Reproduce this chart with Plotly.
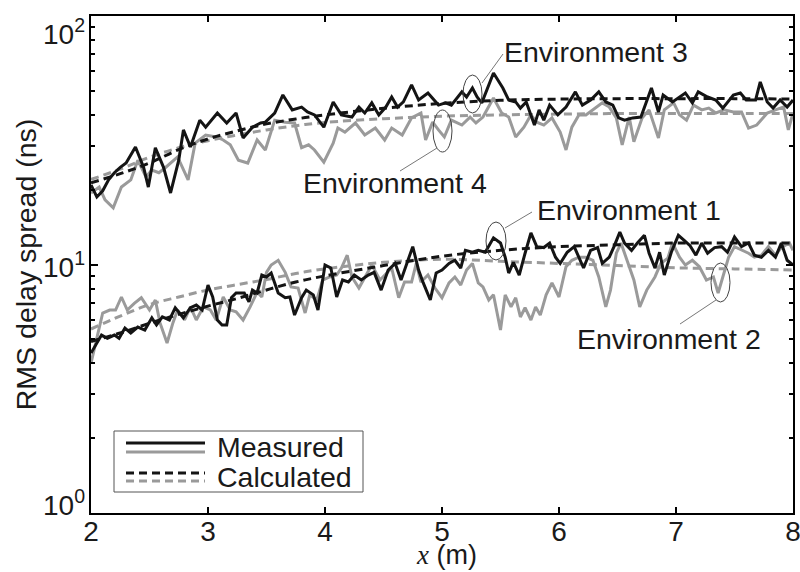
import math
import plotly.graph_objects as go

# ---------------- data ----------------
env3_meas_x = [2.00,2.05,2.10,2.15,2.20,2.25,2.30,2.38,2.45,2.49,2.55,2.62,2.68,2.75,2.79,2.85,2.93,2.98,
               3.08,3.16,3.24,3.30,3.38,3.45,3.49,3.57,3.64,3.72,3.80,3.85,3.91,3.99,
               4.07,4.14,4.23,4.29,4.34,4.40,4.46,4.52,4.57,4.62,4.67,4.74,4.80,4.88,4.97,
               5.03,5.08,5.17,5.21,5.26,5.30,5.34,5.44,5.52,5.57,5.63,5.67,5.72,5.79,5.83,5.87,5.92,5.99,
               6.06,6.14,6.20,6.27,6.34,6.40,6.46,6.51,6.56,6.63,6.70,6.79,6.85,6.89,6.97,
               7.08,7.14,7.19,7.27,7.34,7.40,7.49,7.55,7.60,7.68,7.72,7.78,7.83,7.89,7.95,8.00]
env3_meas_y = [20.9,18.7,19.8,21.9,23.4,24.6,25.6,29.7,24.6,20.5,29.5,24.6,19.4,26.3,34.8,29.7,38.1,35.7,
               40.7,37.1,40.7,32.3,35.7,37.1,37.4,40.7,48.1,41.9,43.0,41.1,40.0,35.7,
               45.1,40.0,39.2,43.0,40.7,44.7,40.0,43.0,47.2,43.0,45.1,52.8,45.9,49.0,43.8,
               44.7,43.8,49.5,47.2,51.3,47.2,44.7,59.0,51.3,45.9,45.1,42.6,45.1,36.4,41.9,38.1,43.8,40.0,
               43.0,49.5,43.8,45.9,49.5,45.1,43.8,38.9,38.1,38.9,39.2,51.3,41.1,48.1,45.1,
               49.0,44.7,49.5,47.2,45.9,42.6,48.1,49.0,45.9,45.9,54.3,45.1,42.6,45.9,43.0,45.9]

env4_meas_x = [2.00,2.07,2.12,2.19,2.26,2.34,2.40,2.47,2.52,2.58,2.63,2.68,2.74,2.83,2.89,2.98,
               3.07,3.13,3.19,3.26,3.34,3.42,3.49,3.57,3.66,3.74,3.80,3.86,3.91,3.99,
               4.07,4.11,4.17,4.26,4.34,4.43,4.51,4.57,4.66,4.74,4.82,4.86,4.92,4.97,
               5.02,5.08,5.17,5.24,5.29,5.35,5.44,5.51,5.57,5.63,5.70,5.76,5.81,5.87,5.94,
               6.01,6.06,6.11,6.17,6.23,6.29,6.37,6.43,6.49,6.54,6.60,6.64,6.71,6.77,6.85,6.90,6.98,
               7.03,7.09,7.15,7.22,7.28,7.34,7.41,7.49,7.56,7.62,7.69,7.78,7.85,7.92,7.96,8.00]
env4_meas_y = [19.4,20.5,18.2,16.9,20.5,21.9,26.3,22.5,24.0,23.4,24.4,25.6,27.1,21.9,30.8,33.2,
               32.6,31.7,30.3,26.3,25.6,31.7,28.9,38.1,37.4,37.1,29.5,30.3,28.9,25.8,
               30.8,35.4,34.1,37.1,33.2,35.4,31.7,35.4,33.2,38.9,40.7,31.7,37.4,34.8,
               32.6,38.1,36.4,39.2,37.1,39.2,46.8,40.7,39.2,32.6,35.7,40.0,37.4,36.4,38.9,
               34.1,28.9,35.7,40.0,40.0,41.9,44.7,43.0,38.9,30.3,39.2,31.2,38.9,41.9,32.3,41.9,44.7,
               40.0,38.1,43.8,41.9,42.6,40.7,41.9,41.1,41.1,35.4,36.4,40.7,41.9,43.0,34.8,40.7]

env1_meas_x = [2.00,2.03,2.09,2.14,2.20,2.24,2.29,2.34,2.40,2.46,2.52,2.56,2.61,2.67,2.72,2.79,2.85,2.90,2.95,
               3.00,3.04,3.08,3.12,3.16,3.20,3.24,3.31,3.35,3.38,3.42,3.46,
               3.50,3.54,3.60,3.66,3.70,3.74,3.80,3.84,3.90,3.94,
               4.00,4.05,4.10,4.15,4.20,4.25,4.31,4.37,4.42,4.48,
               4.54,4.60,4.65,4.70,4.75,4.80,4.84,4.90,4.95,
               5.00,5.06,5.11,5.16,5.20,5.26,5.31,5.37,5.44,5.50,
               5.54,5.57,5.61,5.66,5.71,5.76,5.81,5.87,5.92,5.97,
               6.01,6.07,6.13,6.17,6.21,6.27,6.33,6.37,6.43,6.47,
               6.52,6.56,6.62,6.67,6.73,6.77,6.82,6.86,6.90,6.96,
               7.02,7.07,7.12,7.17,7.22,7.27,7.33,7.39,7.44,7.50,
               7.56,7.62,7.67,7.73,7.79,7.85,7.90,7.95,8.00]
env1_meas_y = [4.40,4.66,5.20,5.05,5.20,5.05,5.55,5.30,5.60,5.45,6.10,5.71,6.15,5.98,6.70,6.10,6.70,6.87,6.56,
               8.27,7.40,5.98,5.71,5.71,7.35,7.68,7.68,7.07,7.89,7.68,9.07,
               8.91,9.24,7.68,7.35,7.40,6.26,7.35,7.89,7.55,6.56,
               9.95,9.68,7.40,8.66,8.50,9.07,8.66,9.07,9.30,7.89,
               9.50,10.1,8.66,10.1,11.8,9.50,8.43,7.20,9.24,
               9.50,10.1,10.4,9.68,11.4,11.2,11.4,11.2,12.8,12.2,
               10.7,9.24,10.2,9.07,11.1,13.4,11.8,11.7,12.2,10.7,
               10.1,11.2,11.8,10.6,9.68,11.4,11.7,10.1,10.7,11.8,
               13.5,12.2,11.4,12.2,13.1,11.1,9.68,11.2,9.07,11.2,
               13.1,12.5,11.9,10.9,12.2,11.1,11.7,11.8,11.2,12.9,
               11.8,12.2,10.9,10.7,11.4,10.7,12.2,10.4,9.95]

env2_meas_x = [2.00,2.04,2.10,2.16,2.21,2.26,2.31,2.37,2.43,2.50,2.55,2.59,2.65,2.70,2.74,2.80,2.85,2.90,2.96,
               3.02,3.07,3.13,3.19,3.24,3.30,3.36,3.42,3.46,
               3.50,3.54,3.60,3.66,3.71,3.77,3.83,3.87,3.93,3.98,
               4.04,4.10,4.14,4.19,4.23,4.29,4.34,4.40,4.47,4.53,
               4.57,4.63,4.68,4.74,4.78,4.82,4.88,4.94,
               5.00,5.06,5.11,5.16,5.21,5.26,5.31,5.35,5.40,5.44,
               5.50,5.54,5.59,5.63,5.67,5.71,5.76,5.80,5.84,5.89,5.94,
               6.00,6.06,6.11,6.17,6.23,6.29,6.34,6.40,6.44,6.49,
               6.53,6.58,6.64,6.69,6.75,6.82,6.87,6.93,6.97,
               7.03,7.08,7.14,7.20,7.26,7.32,7.36,7.40,7.45,7.50,
               7.56,7.62,7.67,7.73,7.79,7.85,7.90,7.97,8.00]
env2_meas_y = [4.01,4.83,6.38,6.56,6.56,7.40,6.56,6.98,7.35,6.56,7.20,5.82,4.83,5.82,6.56,5.98,6.75,5.98,6.75,
               6.56,5.98,7.40,6.56,6.45,5.98,6.75,7.75,7.40,
               9.30,9.95,10.4,9.30,8.12,8.04,6.38,7.55,7.20,8.66,
               8.91,9.07,9.68,10.9,8.91,8.04,8.91,9.95,8.66,9.30,
               9.68,7.35,8.50,8.50,10.1,8.50,9.07,8.04,
               7.35,8.43,8.91,8.27,9.50,10.1,8.43,8.12,7.20,7.55,
               5.45,7.55,6.75,7.35,6.15,6.70,5.98,6.75,6.26,7.55,8.43,
               7.40,9.80,10.4,10.7,10.7,10.4,8.91,6.75,7.89,11.1,
               12.2,10.4,8.66,6.75,7.89,8.91,10.1,10.6,12.2,
               10.7,9.95,10.4,9.80,8.66,8.91,7.68,8.91,10.7,11.8,
               11.4,11.1,10.7,10.9,11.8,10.9,11.7,12.2,11.4]

calc_x = [2.0, 2.25, 2.5, 2.75, 3.0, 3.25, 3.5, 3.75, 4.0, 4.5, 5.0, 5.5, 6.0, 6.5, 7.0, 7.5, 8.0]
env3_calc = [21.3, 23.2, 25.6, 29.0, 32.0, 34.5, 36.8, 38.5, 40.0, 42.5, 44.5, 45.8, 46.3, 46.5, 46.5, 46.5, 46.3]
env4_calc = [22.0, 24.2, 27.0, 29.5, 31.5, 33.2, 34.8, 36.2, 37.3, 38.6, 39.5, 40.0, 40.3, 40.5, 40.5, 40.5, 40.5]
env1_calc = [4.9, 5.3, 5.8, 6.3, 6.8, 7.3, 7.9, 8.5, 9.0, 9.9, 10.8, 11.4, 11.8, 12.0, 12.2, 12.2, 12.2]
env2_calc = [5.5, 6.2, 6.9, 7.4, 7.9, 8.3, 8.7, 9.2, 9.6, 10.2, 10.5, 10.3, 10.1, 9.9, 9.7, 9.6, 9.5]

x_ticks = [2, 3, 4, 5, 6, 7, 8]
y_ticks = [1, 10, 100]
y_ticktext = ["10<sup>0</sup>", "10<sup>1</sup>", "10<sup>2</sup>"]
y_minor = [2, 3, 4, 5, 6, 7, 8, 9, 20, 30, 40, 50, 60, 70, 80, 90]

BLACK = "#141414"
GRAY = "#9a9a9a"
TXT = "#1a1a1a"
FONT = "Liberation Sans, Arial, sans-serif"
DASH = "8px,5px"
LW = 3
FS = 28       # tick labels
FA = 28.5     # annotation texts

# ---------------- figure ----------------
fig = go.Figure()

def add(x, y, color, dash=None, spline=False):
    fig.add_trace(go.Scatter(
        x=x, y=y, mode="lines", showlegend=False, hoverinfo="skip",
        line=dict(color=color, width=LW, dash=dash or "solid",
                  shape="spline" if spline else "linear", smoothing=1.0)))

add(env4_meas_x, env4_meas_y, GRAY)
add(env2_meas_x, env2_meas_y, GRAY)
add(calc_x, env4_calc, GRAY, DASH, True)
add(calc_x, env2_calc, GRAY, DASH, True)
add(env3_meas_x, env3_meas_y, BLACK)
add(env1_meas_x, env1_meas_y, BLACK)
add(calc_x, env3_calc, BLACK, DASH, True)
add(calc_x, env1_calc, BLACK, DASH, True)

L, R, T, B = 91, 7, 16, 59
W, H = 800, 572
PW, PH = W - L - R, H - T - B

def px(xp):
    return (xp - L) / PW

def py(yp):
    return (H - B - yp) / PH

shapes = []
annos = []

# y tick labels (MATLAB style: end labels pulled inside the axis span)
for v, txt, shift in zip(y_ticks, y_ticktext, [10, 0, -16]):
    annos.append(dict(text=txt, xref="paper", yref="y", x=0, y=math.log10(v),
                      xanchor="right", yanchor="middle", xshift=-4, yshift=shift,
                      showarrow=False, font=dict(family=FONT, size=FS, color=TXT)))

# x axis title
annos.append(dict(text="<span style='font-family:Liberation Serif'><i>x</i></span> (m)",
                  xref="paper", yref="paper", x=px(446), y=py(555),
                  xanchor="center", yanchor="middle", showarrow=False,
                  font=dict(family=FONT, size=27, color=TXT)))

# legend box
shapes.append(dict(type="rect", xref="paper", yref="paper",
                   x0=px(114), x1=px(363), y0=py(492), y1=py(431),
                   line=dict(color="#555555", width=1), fillcolor="white", layer="above"))
for yy, col, dash in [(443, BLACK, "solid"), (452, GRAY, "solid"),
                      (473, BLACK, DASH), (481, GRAY, DASH)]:
    shapes.append(dict(type="line", xref="paper", yref="paper",
                       x0=px(126), x1=px(205), y0=py(yy), y1=py(yy),
                       line=dict(color=col, width=LW, dash=dash), layer="above"))
annos.append(dict(text="Measured", xref="paper", yref="paper", x=px(215), y=py(447),
                  xanchor="left", yanchor="middle", showarrow=False,
                  font=dict(family=FONT, size=FA, color=TXT)))
annos.append(dict(text="Calculated", xref="paper", yref="paper", x=px(215), y=py(477),
                  xanchor="left", yanchor="middle", showarrow=False,
                  font=dict(family=FONT, size=FA, color=TXT)))

# environment labels with ellipses and leader lines
envs = [
    ("Environment 3", (463, 482, 75, 113), (482, 83, 503, 54), (502, 52), "left"),
    ("Environment 4", (433, 452, 110, 152), (437, 148, 400, 171), (489, 183), "right"),
    ("Environment 1", (486, 506, 222, 260), (505, 228, 532, 212), (535, 210), "left"),
    ("Environment 2", (711, 730, 263, 302), (716, 300, 680, 324), (575, 339), "left"),
]
for text, ell, ln, pos, anch in envs:
    shapes.append(dict(type="circle", xref="paper", yref="paper",
                       x0=px(ell[0]), x1=px(ell[1]), y0=py(ell[3]), y1=py(ell[2]),
                       line=dict(color="#444444", width=1), layer="above"))
    shapes.append(dict(type="line", xref="paper", yref="paper",
                       x0=px(ln[0]), y0=py(ln[1]), x1=px(ln[2]), y1=py(ln[3]),
                       line=dict(color="#777777", width=1), layer="above"))
    annos.append(dict(text=text, xref="paper", yref="paper", x=px(pos[0]), y=py(pos[1]),
                      xanchor=anch, yanchor="middle", showarrow=False,
                      font=dict(family=FONT, size=FA, color=TXT)))

fig.update_layout(
    width=W, height=H,
    margin=dict(l=L, r=R, t=T, b=B, autoexpand=False),
    paper_bgcolor="white", plot_bgcolor="white",
    font=dict(family=FONT, size=FS, color=TXT),
    shapes=shapes, annotations=annos,
    showlegend=False,
)
fig.update_xaxes(
    range=[2, 8], tickvals=x_ticks, ticktext=[str(v) for v in x_ticks],
    showline=True, linecolor="black", linewidth=2, mirror="ticks",
    ticks="inside", ticklen=6, tickwidth=2, tickcolor="black",
    showgrid=False, zeroline=False, ticklabelstandoff=-8,
    ticklabeloverflow="allow",
    tickfont=dict(family=FONT, size=FS, color=TXT),
)
fig.update_yaxes(
    type="log", range=[0, 2], tickvals=y_ticks, showticklabels=False,
    showline=True, linecolor="black", linewidth=2, mirror="ticks",
    ticks="inside", ticklen=7, tickwidth=2, tickcolor="black",
    minor=dict(tickvals=y_minor, ticks="inside", ticklen=4, tickwidth=2,
               tickcolor="black", showgrid=False),
    showgrid=False, zeroline=False,
    title=dict(text="RMS delay spread (ns)", standoff=44,
               font=dict(family=FONT, size=28.5, color=TXT)),
)

fig.write_html("out.html")
